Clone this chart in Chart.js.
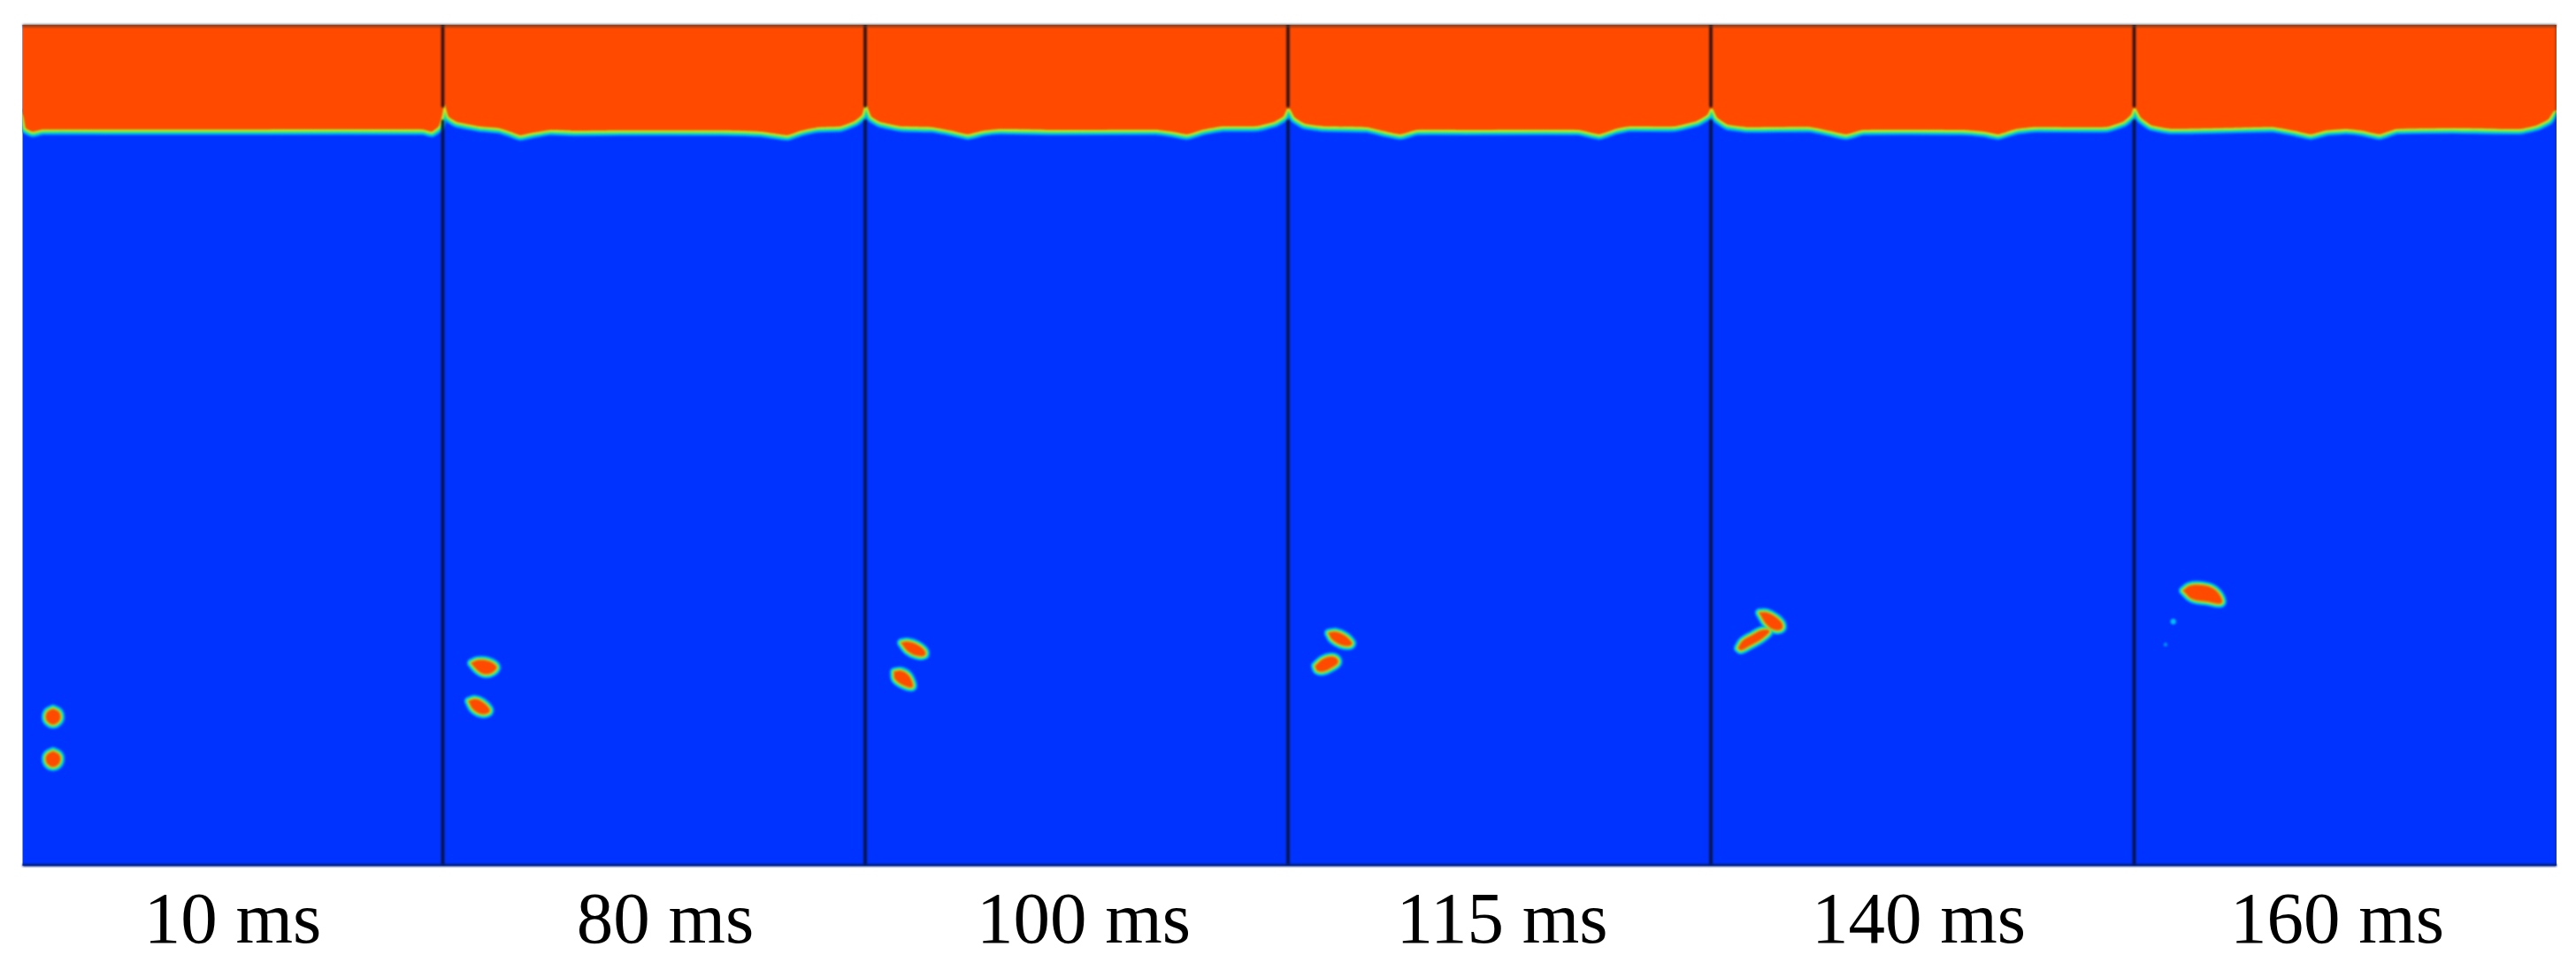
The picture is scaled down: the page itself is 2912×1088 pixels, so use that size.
<!DOCTYPE html>
<html><head><meta charset="utf-8">
<style>html,body{margin:0;padding:0;background:#fff}canvas{display:block}</style>
<script src="https://cdn.jsdelivr.net/npm/chart.js@4"></script>
</head><body><canvas id="c" width="2912" height="1088"></canvas>
<script>
// Time labels and where they sit along the horizontal axis
const timeLabels = ['10 ms','80 ms','100 ms','115 ms','140 ms','160 ms'];
const labelCentres = [263,752,1225,1698,2169,2642];
const panelEdges = [500.5,978,1456,1934,2412.5];

// Free-surface profile of each frame: [x, depth]
const surface10 = [[0,130],[25.5,130],[29,145],[37,149],[48,146.5],[120,146.5],[300,146.5],[478,146.5],[488,149],[496,143],[500,130]];
const surface80 = [[502.5,118],[507,132],[516.5,138],[542,143],[564,145],[577,149],[588,153],[603,150],[622,147],[650,148],[701,147.5],[816,147.5],[861,149],[890,153],[905,148],[925,144],[950,143],[966,137],[974.5,130],[977.5,120]];
const surface100 = [[980,120],[985,132],[995,138],[1019,143],[1054,144],[1076,148],[1094,152],[1111,148],[1131,146],[1191,147],[1306,146.7],[1325,149],[1342,152],[1360,146.7],[1382,143],[1421,142.7],[1440,138],[1451,131.7],[1455,123]];
const surface115 = [[1458,123],[1463.6,133],[1475,140],[1497,143],[1545,144],[1567,149],[1583,152],[1602,147],[1657,147],[1784,147],[1808,152],[1826,146],[1842,143],[1893,143],[1918,137],[1930,130],[1933.6,123]];
const surface140 = [[1936,123],[1941,133],[1953,141],[1976,144],[2046,143.7],[2068,148],[2087,152],[2106,147],[2218,147],[2243,149],[2259,152],[2279,146],[2301,143.7],[2381,143.7],[2400,137.7],[2409,130],[2412,122]];
const surface160 = [[2414.5,123],[2420,133],[2432,141.7],[2454,145.7],[2518,144.7],[2569,143.7],[2594,148],[2612,152],[2629,147.7],[2652,146],[2671,148],[2690,152],[2709,146],[2773,145],[2849,146],[2868,141.7],[2881,135],[2888,125],[2920,125]];

// Droplet outlines: [x, depth]
const drop10a = [[60,802],[66,805],[68,811],[66,816],[60,819],[54,816],[52,811],[54,805]];
const drop10b = [[60,850],[66,853],[68,858],[66,864],[60,867],[54,864],[52,858],[54,853]];
const drop80a = [[533,750],[540,747],[552,748],[561,754],[557,760],[548,762],[540,758]];
const drop80b = [[530,793],[537,791],[545,794],[553,802],[552,806],[544,807],[535,802]];
const drop100a = [[1019,727],[1026,726],[1036,729],[1045,736],[1045,741],[1036,741],[1026,736]];
const drop100b = [[1011,760],[1018,759],[1026,763],[1031,772],[1031,777],[1022,775],[1012,768]];
const drop115a = [[1502,716],[1510,715],[1520,719],[1528,727],[1526,730],[1516,729],[1506,723]];
const drop115b = [[1487,753],[1495,746],[1504,743],[1511,745],[1512,750],[1505,755],[1496,759],[1489,758]];
const drop140a = [[1989,693],[1997,693],[2007,698],[2014,705],[2014,711],[2006,712],[1997,706]];
const drop140b = [[1965,733],[1970,725],[1980,719],[1992,713],[2000,714],[1992,722],[1978,730],[1968,735]];
const drop160 = [[2468,668],[2475,663],[2487,662],[2500,665],[2509,673],[2511,682],[2495,680],[2478,677]];
const satellite160a = [[2456.7,703]];
const satellite160b = [[2448,729]];

const ORANGE='#FF4A00', BLUE='#0033FF';
const bands=[['#0080FF',1],['#00CCE0',.75],['#30E878',.52],['#C8F020',.3]];
const pts=a=>a.map(([x,y])=>({x,y}));
const surface=[...surface10,...surface80,...surface100,...surface115,...surface140,...surface160];
const drops=[drop10a,drop10b,drop80a,drop80b,drop100a,drop100b,drop115a,drop115b,drop140a,drop140b,drop160];
const base={showLine:true,pointRadius:0,tension:.12,capBezierPoints:false,borderCapStyle:'round',borderJoinStyle:'round'};

const sets=[];
bands.forEach(([c,f])=>sets.push({...base,data:pts(surface),borderColor:c,borderWidth:13*f,fill:false}));
sets.push({...base,data:pts(surface),borderWidth:0,borderColor:ORANGE,fill:{value:-100},backgroundColor:ORANGE});
panelEdges.forEach(x=>{
  sets.push({...base,tension:0,data:pts([[x,27],[x,120]]),borderColor:'rgba(20,12,25,.92)',borderWidth:3.5,borderCapStyle:'butt',fill:false});
  sets.push({...base,tension:0,data:pts([[x,137],[x,979]]),borderColor:'rgba(8,14,40,.9)',borderWidth:3.5,borderCapStyle:'butt',fill:false});
});
sets.push({...base,tension:0,clip:false,data:pts([[25.5,29],[2890,29]]),borderColor:'rgba(60,60,60,.55)',borderWidth:4,borderCapStyle:'butt',fill:false});
sets.push({...base,tension:0,clip:false,data:pts([[25.5,978.5],[2890,978.5]]),borderColor:'#00207F',borderWidth:3,borderCapStyle:'butt',fill:false});
sets.push({...base,tension:0,data:pts([[2889.5,28],[2889.5,979]]),borderColor:'rgba(40,40,60,.5)',borderWidth:1.5,borderCapStyle:'butt',fill:false});
const close=d=>pts([...d,d[0]]);
bands.forEach(([c,f])=>drops.forEach(d=>sets.push({...base,tension:.4,data:close(d),borderColor:c,borderWidth:11*f,fill:false})));
drops.forEach(d=>sets.push({...base,tension:.4,data:close(d),borderColor:ORANGE,borderWidth:1,fill:'shape',backgroundColor:ORANGE}));
sets.push({showLine:false,data:pts(satellite160a),pointRadius:3.2,pointBorderWidth:0,pointBackgroundColor:'#00BDFF'});
sets.push({showLine:false,data:pts(satellite160b),pointRadius:2.2,pointBorderWidth:0,pointBackgroundColor:'#0090FF'});

const field={id:'field',
  beforeDatasetsDraw(ch){const {ctx,chartArea:a}=ch;ctx.save();ctx.fillStyle=BLUE;ctx.fillRect(a.left,a.top,a.right-a.left,a.bottom-a.top);ctx.restore();ctx.filter='blur(1px)';},
  afterDatasetsDraw(ch){ch.ctx.filter='none';}};

new Chart(document.getElementById('c'),{
  type:'scatter',
  data:{datasets:sets.reverse()},
  plugins:[field],
  options:{responsive:false,animation:false,devicePixelRatio:1,
    layout:{padding:{left:25.5,right:22,top:28,bottom:0}},
    plugins:{legend:{display:false},tooltip:{enabled:false}},
    scales:{
      x:{type:'linear',min:25.5,max:2890,
        afterFit(s){s.height=109;},
        afterBuildTicks(s){s.ticks=labelCentres.map(v=>({value:v}));},
        grid:{display:false,drawTicks:false},border:{display:false},
        ticks:{autoSkip:false,maxRotation:0,padding:15,color:'#000',font:{family:'"Liberation Serif"',size:83},
          callback:v=>timeLabels[labelCentres.indexOf(v)]}},
      y:{type:'linear',reverse:true,min:28,max:979,display:false}
    }}
});
</script></body></html>
